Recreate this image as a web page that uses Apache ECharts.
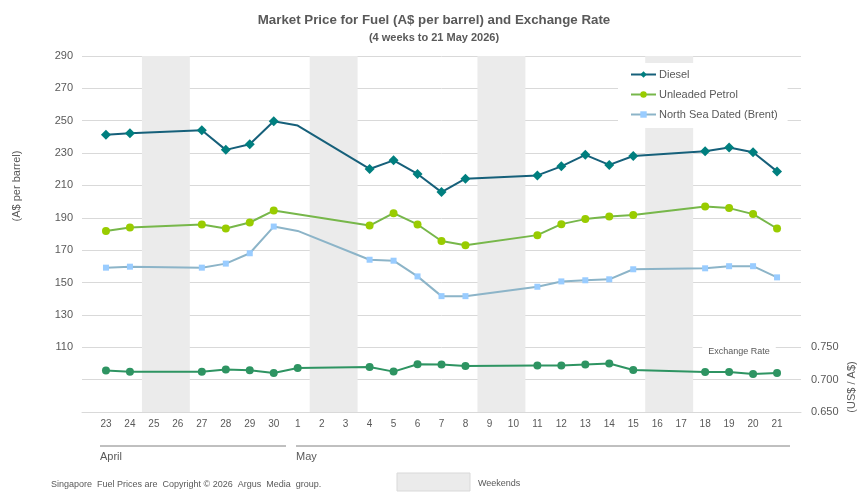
<!DOCTYPE html>
<html>
<head>
<meta charset="utf-8">
<script src="https://cdn.jsdelivr.net/npm/echarts@6/dist/echarts.min.js"></script>
<style>
  html, body { margin: 0; padding: 0; background: #fff; }
  #chart { width: 868px; height: 504px; }
</style>
</head>
<body>
<div id="chart"></div>
<script>
var days = ['23','24','25','26','27','28','29','30','1','2','3','4','5','6','7','8','9','10','11','12','13','14','15','16','17','18','19','20','21'];
var diesel   = [241.3,242.3,null,null,244.1,232.0,235.5,249.7,247.0,null,null,220.2,225.5,217.1,205.9,214.2,null,null,216.2,221.8,228.9,222.7,228.2,null,null,231.1,233.4,230.5,218.7];
var unleaded = [181.9,184.0,null,null,185.9,183.4,187.1,194.5,null,null,null,185.2,192.9,185.9,175.7,173.1,null,null,179.3,186.1,189.2,190.8,191.7,null,null,197.0,196.0,192.3,183.4];
var brent    = [159.2,159.8,null,null,159.2,161.7,168.1,184.6,181.9,null,null,164.1,163.5,153.8,141.6,141.6,null,null,147.4,150.7,151.4,152.0,158.2,null,null,158.8,160.1,160.1,153.2];
var fxRate   = [0.714,0.712,null,null,0.712,0.7155,0.7145,0.7103,0.718,null,null,0.7196,0.7124,0.7237,0.7232,0.7211,null,null,0.7217,0.7217,0.7232,0.7248,0.715,null,null,0.7118,0.7118,0.7088,0.7103];
// days where the line has a point but no marker
var noMarkerDays = ['1'];
var weekends = [['25','26'],['2','3'],['9','10'],['16','17']];

var textColor = '#595959';

// x position = index in days + 1 (one empty slot each side)
function toPoints(values) {
    var out = [];
    values.forEach(function (v, i) {
        if (v === null) return;
        var item = { value: [i + 1, v] };
        if (noMarkerDays.indexOf(days[i]) >= 0) item.symbol = 'none';
        out.push(item);
    });
    return out;
}
var fxPoints = [];
fxRate.forEach(function (v, i) { if (v !== null) fxPoints.push([i + 1, v]); });

var bands = weekends.map(function (w) {
    return [{ xAxis: days.indexOf(w[0]) + 0.5 }, { xAxis: days.indexOf(w[1]) + 1.5 }];
});

var myChart = echarts.init(document.getElementById('chart'));
myChart.setOption({
    animation: false,
    textStyle: { fontFamily: 'Liberation Sans, Arial, sans-serif' },
    title: {
        left: 'center',
        top: 9,
        text: 'Market Price for Fuel (A$ per barrel) and Exchange Rate',
        subtext: '(4 weeks to 21 May 2026)',
        itemGap: 5,
        textStyle: { fontSize: 13.3, fontWeight: 'bold', color: textColor },
        subtextStyle: { fontSize: 11, fontWeight: 'bold', color: textColor }
    },
    legend: {
        orient: 'vertical',
        left: 618,
        top: 63,
        itemWidth: 25,
        itemHeight: 8,
        itemGap: 9,
        padding: [6, 10, 8, 12],
        backgroundColor: '#fff',
        textStyle: { fontSize: 11, color: textColor, padding: [0, 0, 0, -2] },
        data: ['Diesel', 'Unleaded Petrol', 'North Sea Dated (Brent)']
    },
    grid: { left: 82, right: 67, top: 56, bottom: 92 },
    xAxis: {
        type: 'value',
        min: 0,
        max: days.length + 1,
        interval: 1,
        axisLine: { show: true, lineStyle: { color: '#d9d9d9' } },
        axisTick: { show: false },
        splitLine: { show: false },
        axisLabel: {
            color: textColor,
            fontSize: 10,
            margin: 7,
            formatter: function (v) { return days[v - 1] || ''; }
        }
    },
    yAxis: [
        {
            type: 'value',
            min: 70,
            max: 290,
            interval: 20,
            axisLine: { show: false },
            axisTick: { show: false },
            splitLine: { lineStyle: { color: '#d9d9d9' } },
            axisLabel: {
                color: textColor,
                fontSize: 11,
                margin: 9,
                formatter: function (v) { return v >= 110 ? v : ''; }
            }
        },
        {
            type: 'value',
            min: 0.65,
            max: 1.2,
            interval: 0.05,
            axisLine: { show: false },
            axisTick: { show: false },
            splitLine: { show: false },
            axisLabel: {
                color: textColor,
                fontSize: 11,
                margin: 10,
                formatter: function (v) { return v <= 0.7501 ? v.toFixed(3) : ''; }
            }
        }
    ],
    graphic: [
        { type: 'text', x: 17, y: 186, rotation: Math.PI / 2, z: 10,
          style: { text: '(A$ per barrel)', fontSize: 11, fill: textColor, align: 'center', verticalAlign: 'middle', fontFamily: 'Liberation Sans' } },
        { type: 'text', x: 852, y: 387, rotation: Math.PI / 2, z: 10,
          style: { text: '(US$ / A$)', fontSize: 11, fill: textColor, align: 'center', verticalAlign: 'middle', fontFamily: 'Liberation Sans' } },
        { type: 'text', x: 739, y: 352, z: 10,
          style: { text: 'Exchange Rate', fontSize: 9, fill: textColor, align: 'center', verticalAlign: 'middle', backgroundColor: '#fff', padding: [2, 6], fontFamily: 'Liberation Sans' } },
        { type: 'line', z: 10, shape: { x1: 100, y1: 446, x2: 286, y2: 446 }, style: { stroke: '#808080', lineWidth: 1 } },
        { type: 'line', z: 10, shape: { x1: 296, y1: 446, x2: 790, y2: 446 }, style: { stroke: '#808080', lineWidth: 1 } },
        { type: 'text', x: 100, y: 457, z: 10,
          style: { text: 'April', fontSize: 11, fill: textColor, verticalAlign: 'middle', fontFamily: 'Liberation Sans' } },
        { type: 'text', x: 296, y: 457, z: 10,
          style: { text: 'May', fontSize: 11, fill: textColor, verticalAlign: 'middle', fontFamily: 'Liberation Sans' } },
        { type: 'text', x: 51, y: 485, z: 10,
          style: { text: 'Singapore  Fuel Prices are  Copyright © 2026  Argus  Media  group.', fontSize: 9, fill: textColor, verticalAlign: 'middle', fontFamily: 'Liberation Sans' } },
        { type: 'rect', z: 10, shape: { x: 397, y: 473, width: 73, height: 18 }, style: { fill: '#ebebeb', stroke: '#d9d9d9', lineWidth: 1 } },
        { type: 'text', x: 478, y: 484, z: 10,
          style: { text: 'Weekends', fontSize: 9, fill: textColor, verticalAlign: 'middle', fontFamily: 'Liberation Sans' } }
    ],
    series: [
        {
            name: 'Weekends',
            type: 'line',
            z: 1,
            data: [],
            silent: true,
            markArea: {
                silent: true,
                itemStyle: { color: '#ebebeb' },
                data: bands
            }
        },
        {
            name: 'Diesel',
            type: 'line',
            yAxisIndex: 0,
            symbol: 'diamond',
            symbolSize: 10,
            connectNulls: true,
            lineStyle: { color: '#16607a', width: 2 },
            itemStyle: { color: '#007f7f' },
            data: toPoints(diesel)
        },
        {
            name: 'Unleaded Petrol',
            type: 'line',
            yAxisIndex: 0,
            symbol: 'circle',
            symbolSize: 8,
            connectNulls: true,
            lineStyle: { color: '#77b74a', width: 2 },
            itemStyle: { color: '#99cc00' },
            data: toPoints(unleaded)
        },
        {
            name: 'North Sea Dated (Brent)',
            type: 'line',
            yAxisIndex: 0,
            symbol: 'rect',
            symbolSize: 6,
            connectNulls: true,
            lineStyle: { color: '#8cb4c8', width: 2 },
            itemStyle: { color: '#99ccff' },
            data: toPoints(brent)
        },
        {
            name: 'Exchange Rate',
            type: 'line',
            yAxisIndex: 1,
            symbol: 'circle',
            symbolSize: 8,
            connectNulls: true,
            lineStyle: { color: '#2e9462', width: 2 },
            itemStyle: { color: '#2e9462' },
            data: fxPoints
        }
    ]
});
</script>
</body>
</html>
